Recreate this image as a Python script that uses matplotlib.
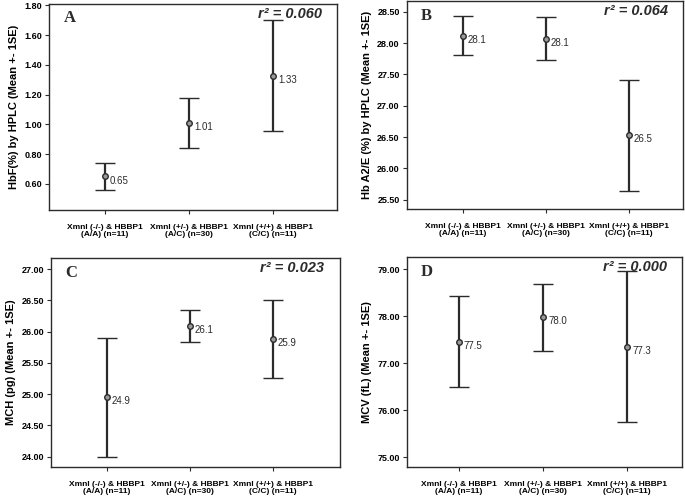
import matplotlib
matplotlib.use("Agg")
import matplotlib.pyplot as plt
import numpy as np

categories = ["XmnI (-/-) & HBBP1\n(A/A) (n=11)",
              "XmnI (+/-) & HBBP1\n(A/C) (n=30)",
              "XmnI (+/+) & HBBP1\n(C/C) (n=11)"]

# panel A: HbF
hbf_mean = [0.651, 1.013, 1.329]
hbf_low = [0.562, 0.845, 0.958]
hbf_high = [0.744, 1.178, 1.700]
hbf_labels = ["0.65", "1.01", "1.33"]

# panel B: Hb A2/E
a2_mean = [28.118, 28.065, 26.53]
a2_low = [27.815, 27.725, 25.638]
a2_high = [28.43, 28.41, 27.417]
a2_labels = ["28.1", "28.1", "26.5"]

# panel C: MCH
mch_mean = [24.95, 26.09, 25.88]
mch_low = [24.00, 25.84, 25.26]
mch_high = [25.895, 26.34, 26.50]
mch_labels = ["24.9", "26.1", "25.9"]

# panel D: MCV
mcv_mean = [77.45, 77.98, 77.35]
mcv_low = [76.49, 77.27, 75.75]
mcv_high = [78.425, 78.69, 78.96]
mcv_labels = ["77.5", "78.0", "77.3"]

panels = [
    dict(letter="A", r2="0.060", ylabel="HbF(%) by HPLC (Mean +- 1SE)",
         mean=hbf_mean, low=hbf_low, high=hbf_high, labels=hbf_labels,
         ylim=(0.425, 1.81), yticks=np.arange(0.6, 1.81, 0.2), fmt="{:.2f}",
         pos=[0.0715, 0.5775, 0.4205, 0.4145], xlim=(-0.667, 2.76)),
    dict(letter="B", r2="0.064", ylabel="Hb A2/E (%) by HPLC (Mean +- 1SE)",
         mean=a2_mean, low=a2_low, high=a2_high, labels=a2_labels,
         ylim=(25.35, 28.67), yticks=np.arange(25.5, 28.51, 0.5), fmt="{:.2f}",
         pos=[0.5937, 0.579, 0.4033, 0.419], xlim=(-0.675, 2.65)),
    dict(letter="C", r2="0.023", ylabel="MCH (pg) (Mean +- 1SE)",
         mean=mch_mean, low=mch_low, high=mch_high, labels=mch_labels,
         ylim=(23.83, 27.18), yticks=np.arange(24.0, 27.01, 0.5), fmt="{:.2f}",
         pos=[0.0745, 0.060, 0.4215, 0.421], xlim=(-0.675, 2.81)),
    dict(letter="D", r2="0.000", ylabel="MCV (fL) (Mean +- 1SE)",
         mean=mcv_mean, low=mcv_low, high=mcv_high, labels=mcv_labels,
         ylim=(74.79, 79.26), yticks=np.arange(75.0, 79.01, 1.0), fmt="{:.2f}",
         pos=[0.594, 0.060, 0.4016, 0.423], xlim=(-0.62, 2.65)),
]

fig = plt.figure(figsize=(6.85, 4.97), dpi=100)
dark = "#2b2b2b"
x = np.arange(len(categories))

for p in panels:
    ax = fig.add_axes(p["pos"])
    mean = np.array(p["mean"]); low = np.array(p["low"]); high = np.array(p["high"])
    ax.errorbar(x, mean, yerr=[mean - low, high - mean], fmt="o", color=dark,
                ecolor=dark, elinewidth=1.6, capsize=7.5, capthick=1.6,
                markersize=4, markerfacecolor="#9a9a9a", markeredgecolor=dark,
                markeredgewidth=1.0)
    for xi, m, lab in zip(x, mean, p["labels"]):
        ax.annotate(lab, (xi, m), xytext=(3.5, -3), textcoords="offset points",
                    fontsize=7, color=dark, ha="left", va="center",
                    fontfamily="Liberation Sans")
    ax.set_xlim(*p["xlim"])
    ax.set_ylim(*p["ylim"])
    ax.set_yticks(p["yticks"])
    ax.set_yticklabels([p["fmt"].format(v) for v in p["yticks"]],
                       fontsize=6.5, fontweight="bold", fontfamily="Liberation Sans")
    ax.set_xticks(x)
    ax.set_xticklabels(categories, fontsize=6.0, fontweight="bold",
                       fontfamily="Liberation Sans", linespacing=0.95)
    ax.tick_params(axis="both", direction="out", length=3, width=0.8, color=dark, pad=2)
    ax.tick_params(axis="x", pad=7)
    ax.set_ylabel(p["ylabel"], fontsize=8, fontweight="bold",
                  fontfamily="Liberation Sans", labelpad=4)
    for s in ax.spines.values():
        s.set_color(dark)
        s.set_linewidth(1.0)
    ax.text(0.05, 0.93, p["letter"], transform=ax.transAxes, fontsize=12,
            fontweight="bold", fontfamily="Liberation Serif", ha="left", va="center",
            color=dark)
    ax.text(0.947, 0.952, "r\u00b2 = " + p["r2"], transform=ax.transAxes,
            fontsize=10.5, fontweight="bold", fontstyle="italic",
            fontfamily="Liberation Sans", ha="right", va="center", color=dark)

fig.savefig("out.png", dpi=100)
